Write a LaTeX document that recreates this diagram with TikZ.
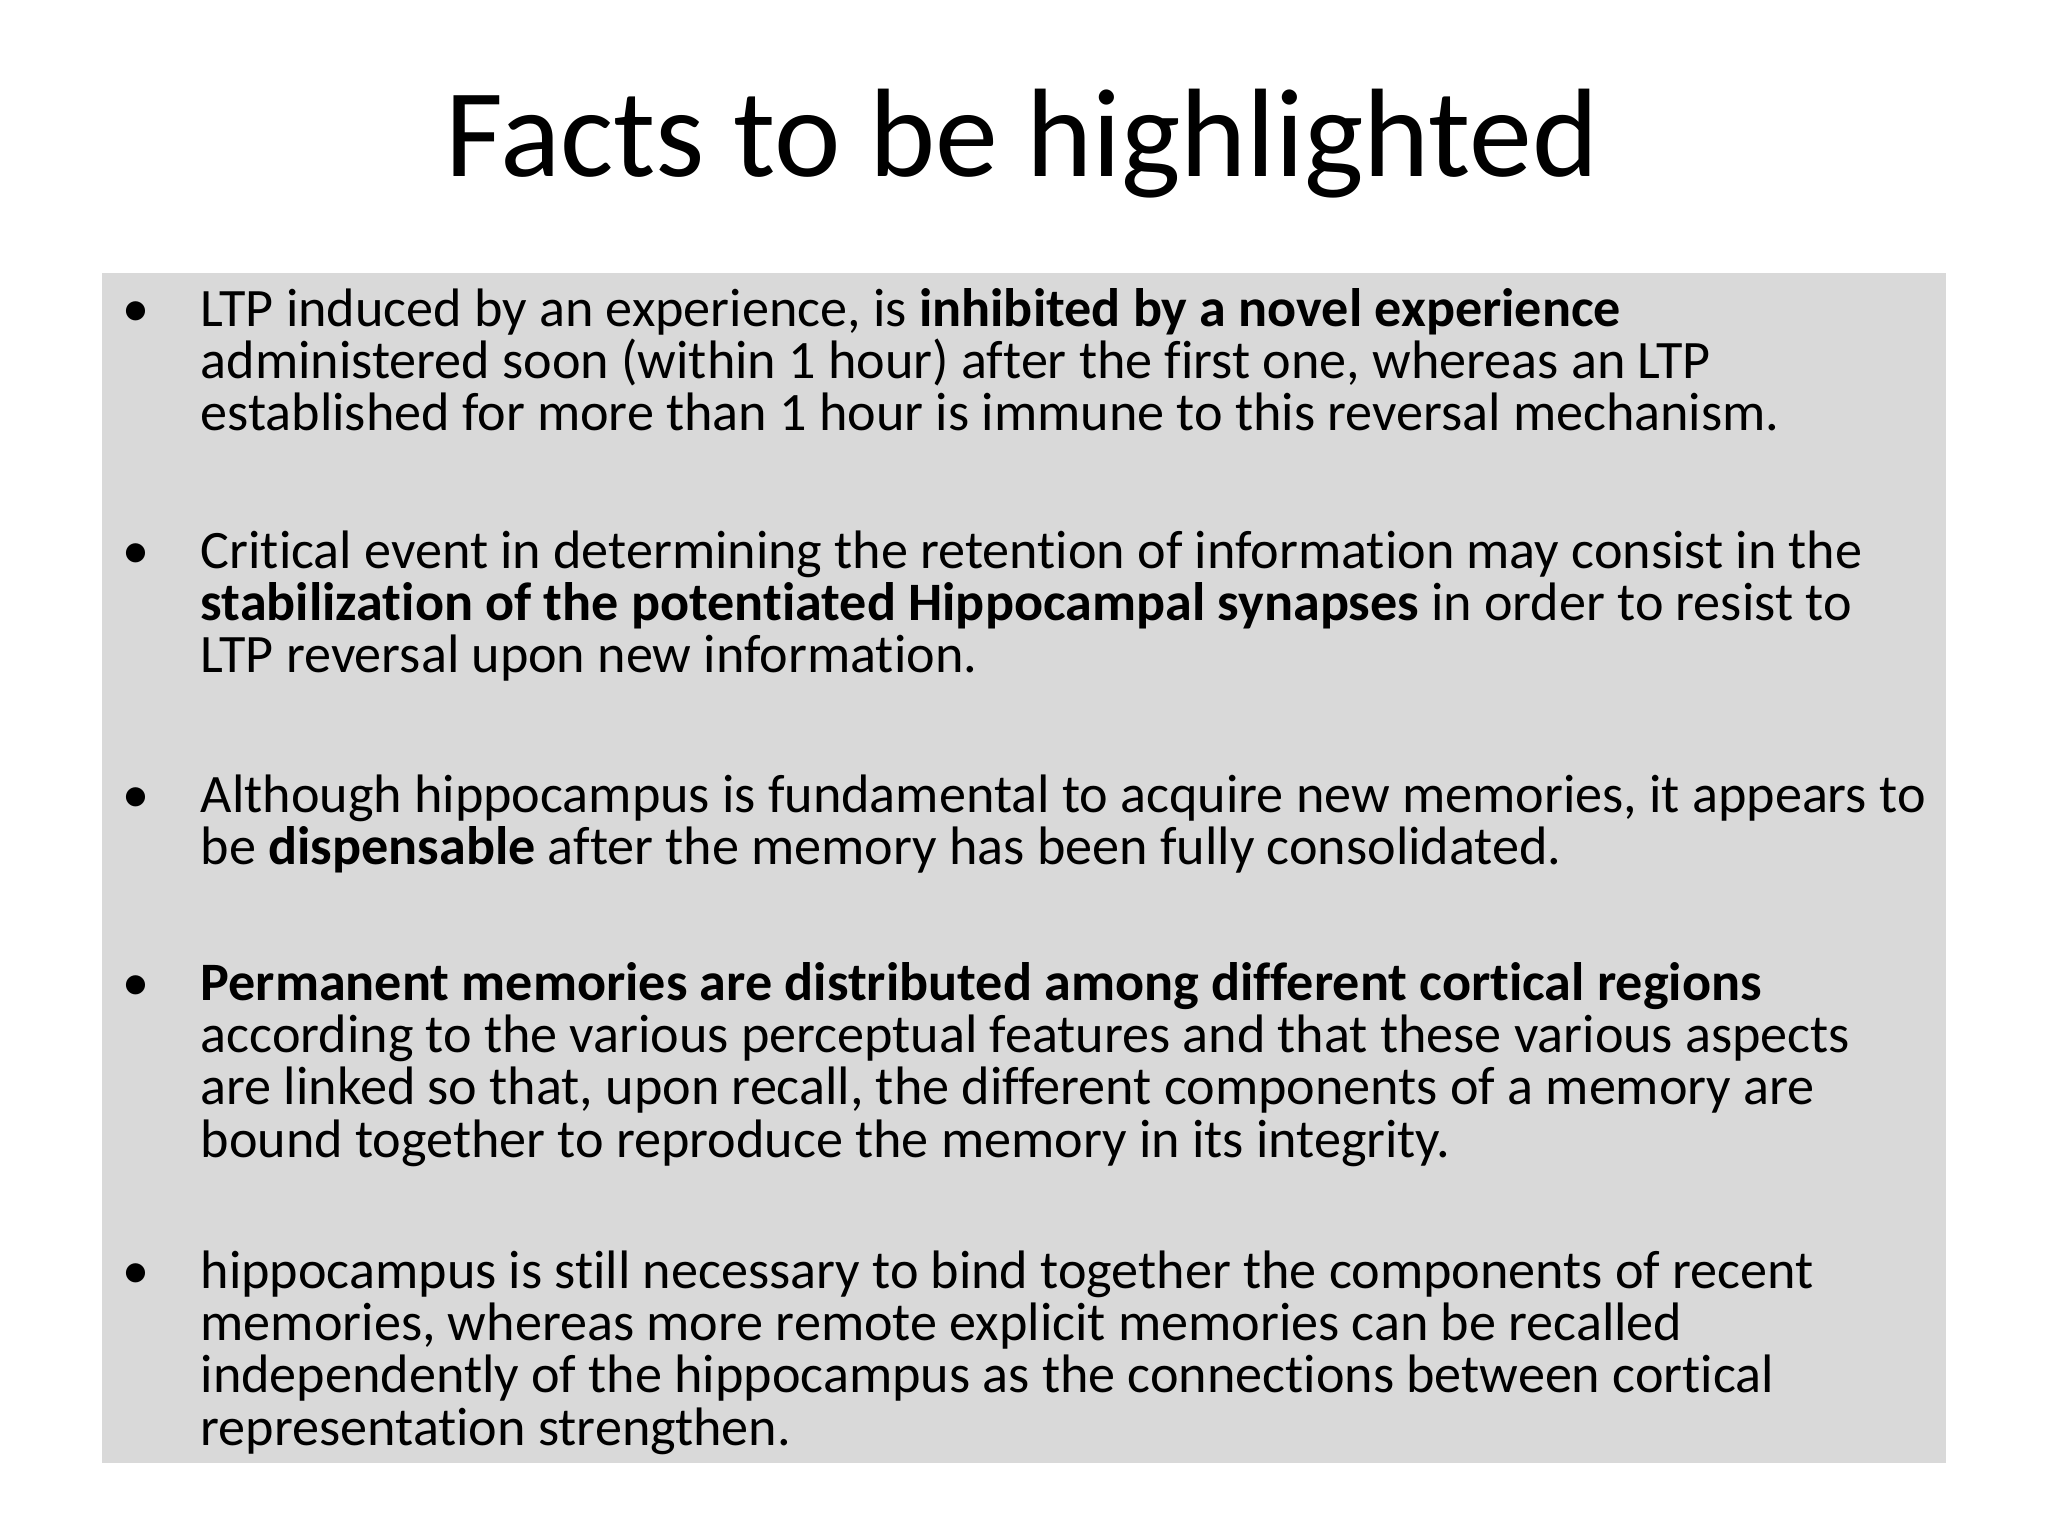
\documentclass[tikz,border=0pt]{standalone}
\usepackage{fontspec}
\setmainfont{Carlito}[Ligatures=NoCommon]
\newcommand{\plines}[1]{\vtop{\baselineskip=14.9pt\lineskiplimit=-10pt #1}}
\begin{document}
\begin{tikzpicture}[x=0.01cm,y=-0.01cm,
  para/.style={anchor=base west,inner sep=0pt,font=\fontsize{15.4pt}{14.9pt}\selectfont},
  bul/.style={anchor=base west,inner sep=0pt,font=\fontsize{15.4pt}{14.9pt}\selectfont}]
\useasboundingbox (0,0) rectangle (2048,1536);
\fill[fill={rgb,255:red,217;green,217;blue,217}] (102,273) rectangle (1946,1463);
\node[anchor=base,inner sep=0pt,font=\fontsize{35.8pt}{40pt}\selectfont] (title) at (1022,176) {Facts to be highlighted};
\node[bul] (b1) at (122,326) {•};
\node[para] (p1) at (200,326) {\plines{\hbox{LTP induced by an experience, is \textbf{inhibited by a novel experience}}\hbox{administered soon (within 1 hour) after the first one, whereas an LTP}\hbox{established for more than 1 hour is immune to this reversal mechanism.}}};
\node[bul] (b2) at (122,568) {•};
\node[para] (p2) at (200,568) {\plines{\hbox{Critical event in determining the retention of information may consist in the}\hbox{\textbf{stabilization of the potentiated Hippocampal synapses} in order to resist to}\hbox{LTP reversal upon new information.}}};
\node[bul] (b3) at (122,812) {•};
\node[para] (p3) at (200,812) {\plines{\hbox{Although hippocampus is fundamental to acquire new memories, it appears to}\hbox{be \textbf{dispensable} after the memory has been fully consolidated.}}};
\node[bul] (b4) at (122,1000) {•};
\node[para] (p4) at (200,1000) {\plines{\hbox{\textbf{Permanent memories are distributed among different cortical regions}}\hbox{according to the various perceptual features and that these various aspects}\hbox{are linked so that, upon recall, the different components of a memory are}\hbox{bound together to reproduce the memory in its integrity.}}};
\node[bul] (b5) at (122,1288) {•};
\node[para] (p5) at (200,1288) {\plines{\hbox{hippocampus is still necessary to bind together the components of recent}\hbox{memories, whereas more remote explicit memories can be recalled}\hbox{independently of the hippocampus as the connections between cortical}\hbox{representation strengthen.}}};
\end{tikzpicture}
\end{document}
